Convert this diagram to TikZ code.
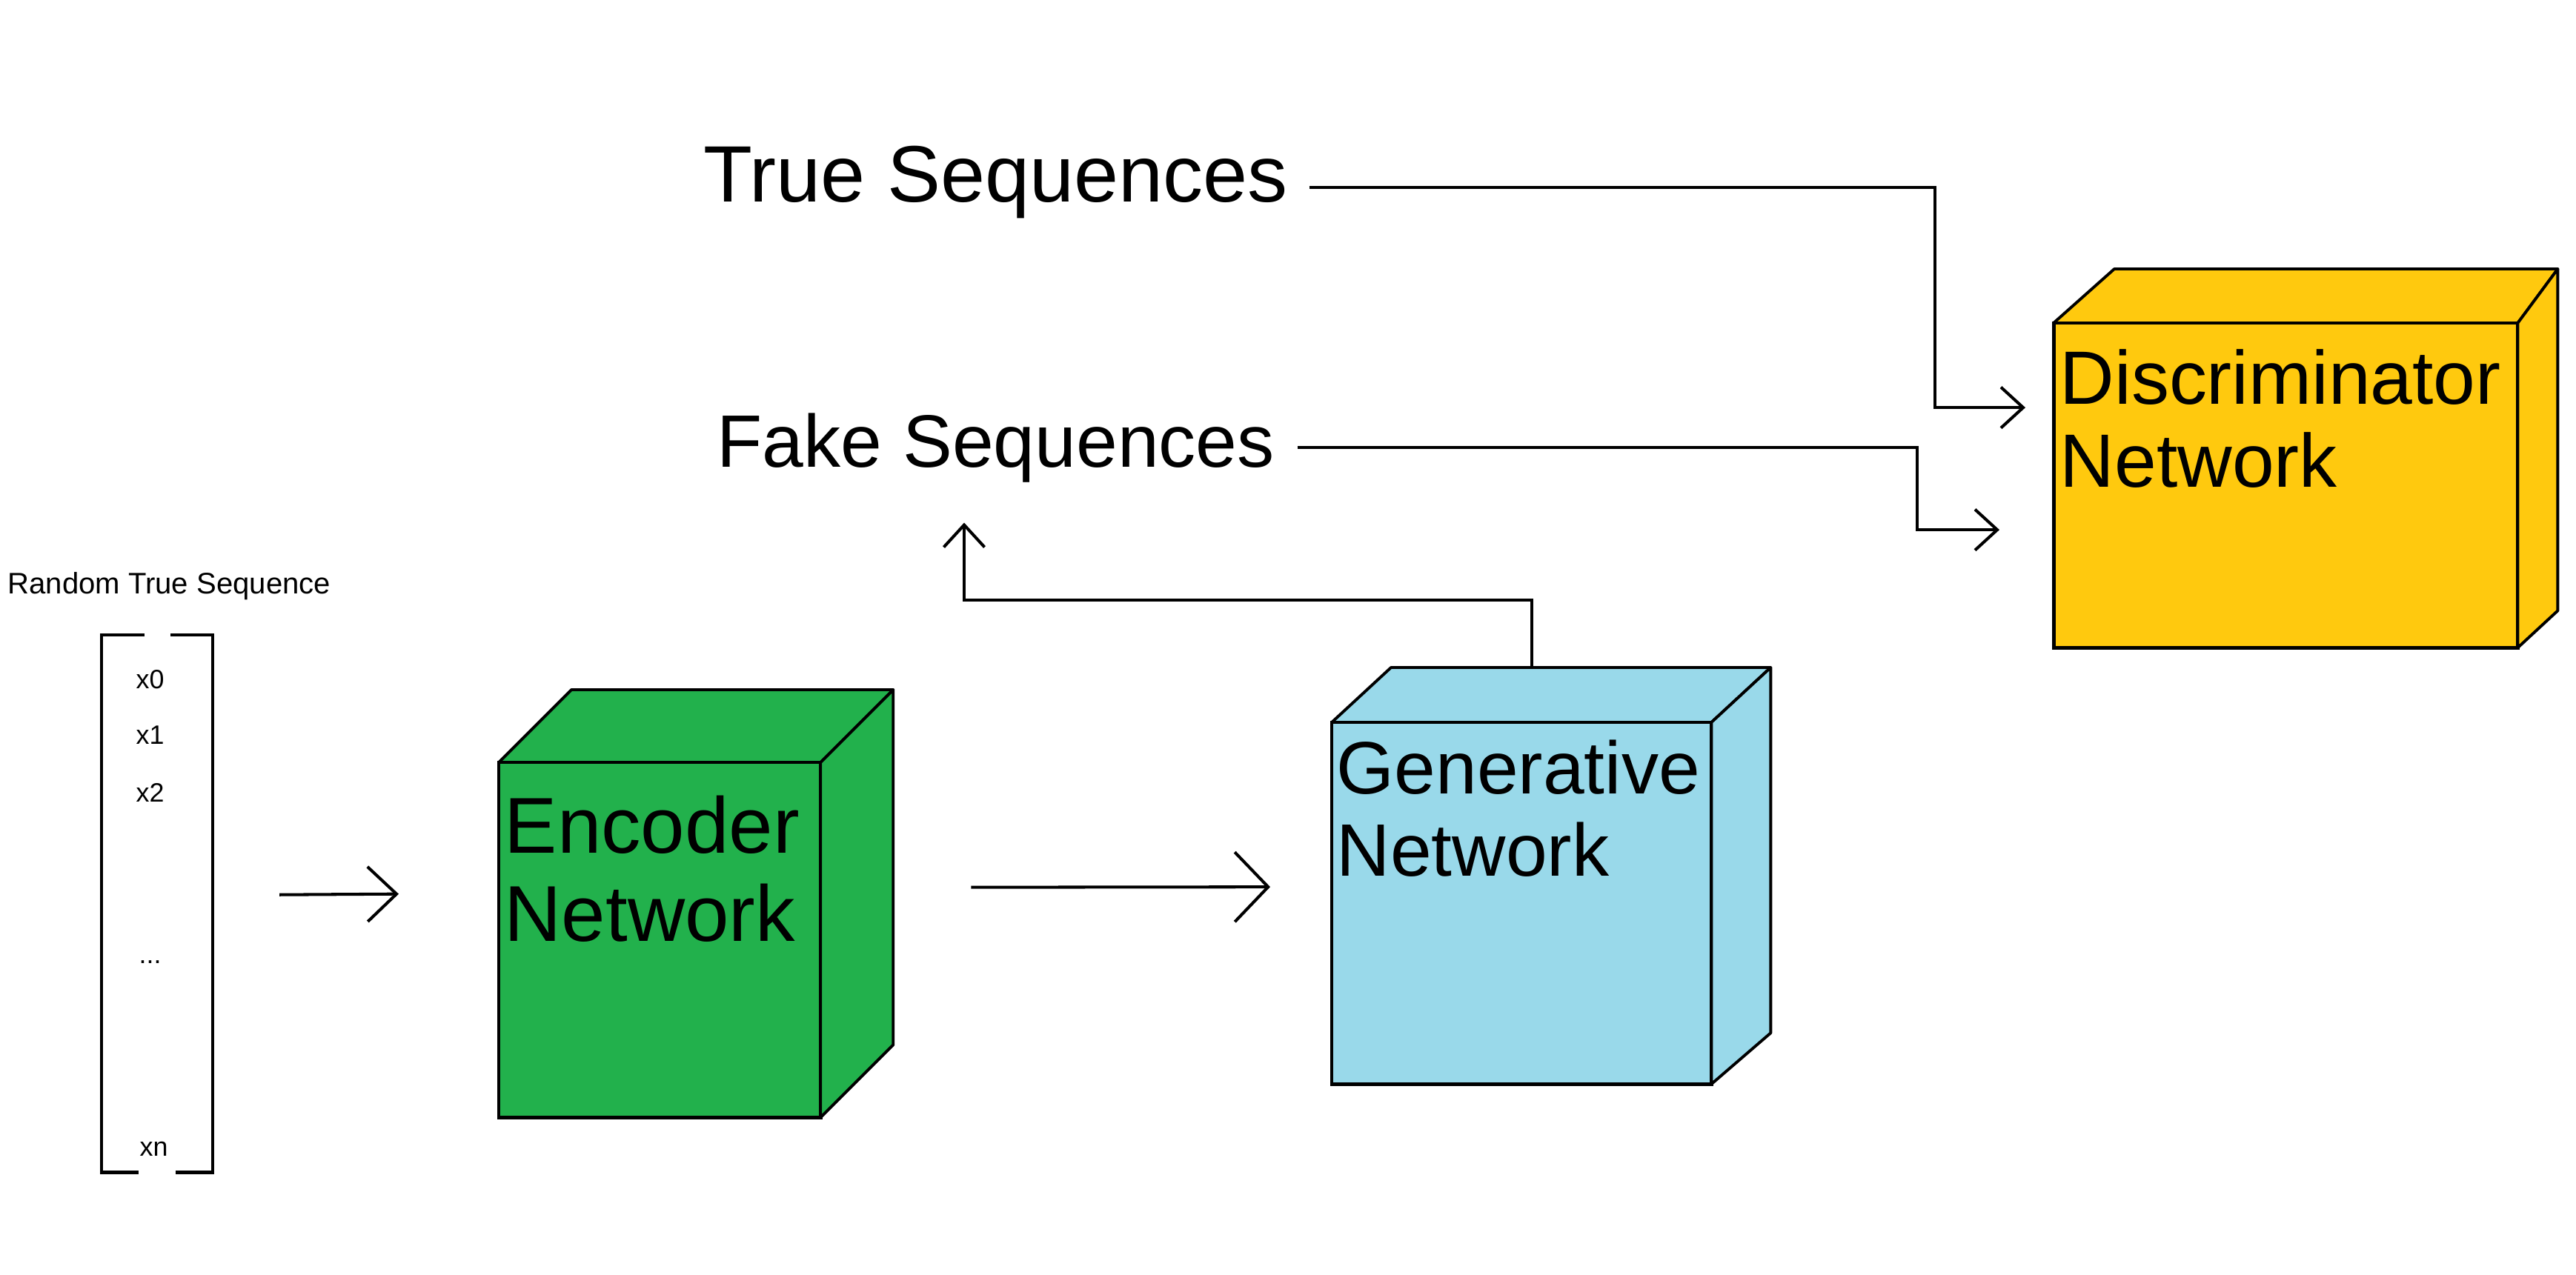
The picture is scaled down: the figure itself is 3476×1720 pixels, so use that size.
\documentclass[tikz,border=0pt]{standalone}
\usepackage{fontspec}
\setmainfont{Liberation Sans}
\usetikzlibrary{arrows.meta}

\definecolor{encgreen}{HTML}{22B14C}
\definecolor{genblue}{HTML}{99D9EA}
\definecolor{discyellow}{HTML}{FFC90E}

\begin{document}
\begin{tikzpicture}[
    x=0.01cm,
    y=-0.01cm,
    front/.style={
        rectangle,
        draw,
        line width=1.4pt,
        inner sep=0pt,
        outer sep=0pt,
        anchor=north west
    },
    face/.style={
        draw,
        line width=1.1pt,
        line join=round
    },
    boxtext/.style={
        anchor=north west,
        align=left,
        inner sep=0pt
    },
    seqtext/.style={
        anchor=base west,
        inner sep=0pt
    },
    item/.style={
        anchor=base west,
        inner sep=0pt,
        font=\fontsize{10.2}{12}\selectfont
    },
    bracket/.style={
        draw,
        line width=1.2pt
    },
    line/.style={
        draw,
        line width=1.15pt,
        -{Straight Barb[length=0.3cm,width=0.55cm]}
    }
]
\useasboundingbox (0,0) rectangle (3476,1720);

% Nodes
\node [seqtext, font=\fontsize{11.4}{13}\selectfont] (randlabel) at (10,801) {Random True Sequence};
\node [anchor=north west, inner sep=0pt, outer sep=0pt, minimum width=1.5cm, minimum height=7.25cm] (seq) at (137,857) {};
\node [item] (x0) at (183,929) {x0};
\node [item] (x1) at (183,1004) {x1};
\node [item] (x2) at (183,1082) {x2};
\node [item] (dots) at (187,1300) {...};
\node [item] (xn) at (188,1560) {xn};

\node [front, fill=encgreen, minimum width=4.34cm, minimum height=4.79cm] (enc) at (673,1029) {};
\node [front, fill=genblue, minimum width=5.12cm, minimum height=4.88cm] (gen) at (1797,975) {};
\node [front, fill=discyellow, minimum width=6.26cm, minimum height=4.38cm] (disc) at (2771,436) {};

\node [seqtext, font=\fontsize{30.7}{35}\selectfont] (trueseq) at (949,272) {True Sequences};
\node [seqtext, font=\fontsize{28.5}{33}\selectfont] (fakeseq) at (967,630) {Fake Sequences};

% Cube faces
\path [face, fill=encgreen] (enc.north west) -- ++(98,-98) -- ([shift={(98,-98)}]enc.north east) -- (enc.north east) -- cycle;
\path [face, fill=encgreen] (enc.north east) -- ++(98,-98) -- ([shift={(98,-98)}]enc.south east) -- (enc.south east) -- cycle;
\path [face, fill=genblue] (gen.north west) -- ++(80,-74) -- ([shift={(80,-74)}]gen.north east) -- (gen.north east) -- cycle;
\path [face, fill=genblue] (gen.north east) -- ++(80,-74) -- ([shift={(80,-69)}]gen.south east) -- (gen.south east) -- cycle;
\path [face, fill=discyellow] (disc.north west) -- ++(82,-73) -- ([shift={(54,-73)}]disc.north east) -- (disc.north east) -- cycle;
\path [face, fill=discyellow] (disc.north east) -- ++(54,-73) -- ([shift={(54,-50)}]disc.south east) -- (disc.south east) -- cycle;

\node [boxtext, font=\fontsize{30.4}{33.9}\selectfont] (enclabel) at ([shift={(7,44)}]enc.north west) {Encoder\\Network};
\node [boxtext, font=\fontsize{28.5}{31.6}\selectfont] (genlabel) at ([shift={(6,23)}]gen.north west) {Generative\\Network};
\node [boxtext, font=\fontsize{29}{31.9}\selectfont] (disclabel) at ([shift={(8,35)}]disc.north west) {Discriminator\\Network};

% Bracket
\path [bracket] ([shift={(58,0)}]seq.north west) -| (seq.south west) -- ++(50,0);
\path [bracket] ([shift={(-57,0)}]seq.north east) -| (seq.south east) -- ++(-50,0);

% Edges
\path [line, -{Straight Barb[length=0.39cm,width=0.74cm]}] ([shift={(90,-12)}]seq.east) -- ([shift={(-135,-62)}]enc.west);
\path [line, -{Straight Barb[length=0.45cm,width=0.94cm]}] ([shift={(203,-71)}]enc.east) -- ([shift={(-83,-22)}]gen.west);
\path [line] ([shift={(14,-74)}]gen.north) -- ++(0,-91) -| ([shift={(334,54)}]fakeseq.south west);
\path [line] ([shift={(28,7)}]trueseq.east) -| ([shift={(-160,-105)}]disc.west) -- ([shift={(-38,-105)}]disc.west);
\path [line] ([shift={(30,0)}]fakeseq.east) -| ([shift={(-184,60)}]disc.west) -- ([shift={(-73,60)}]disc.west);

\end{tikzpicture}
\end{document}
